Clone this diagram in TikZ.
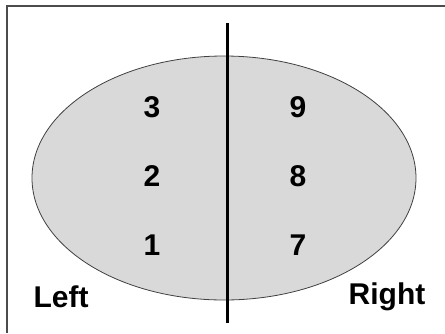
\documentclass[tikz,border=0pt]{standalone}
\usepackage{fontspec}
\setmainfont{Liberation Sans}
\begin{document}
\begin{tikzpicture}[x=1pt,y=-1pt,
  num/.style={font=\fontsize{30}{30}\selectfont\bfseries, inner sep=0pt},
  lab/.style={font=\fontsize{30}{30}\selectfont\bfseries, inner sep=0pt},
  frame/.style={draw=black!70, line width=2pt}]
\useasboundingbox (0,0) rectangle (445,333);
\draw[frame] (445,6) -- (7,6) -- (7,333);
\draw[fill=black!15, draw=black!75, line width=0.8pt] (224,178) ellipse [x radius=192, y radius=122];
\coordinate (top) at (227,23);
\coordinate (bot) at (227,323);
\draw[line width=3pt] (top) -- (bot);
\node[num] (n3) at (152,107.5) {3};
\node[num] (n2) at (152,176) {2};
\node[num] (n1) at (152,245) {1};
\node[num] (n9) at (298,107.5) {9};
\node[num] (n8) at (298,176) {8};
\node[num] (n7) at (298,245) {7};
\node[lab] (left) at (61,297) {Left};
\node[lab] (right) at (387,297) {Right};
\end{tikzpicture}
\end{document}
